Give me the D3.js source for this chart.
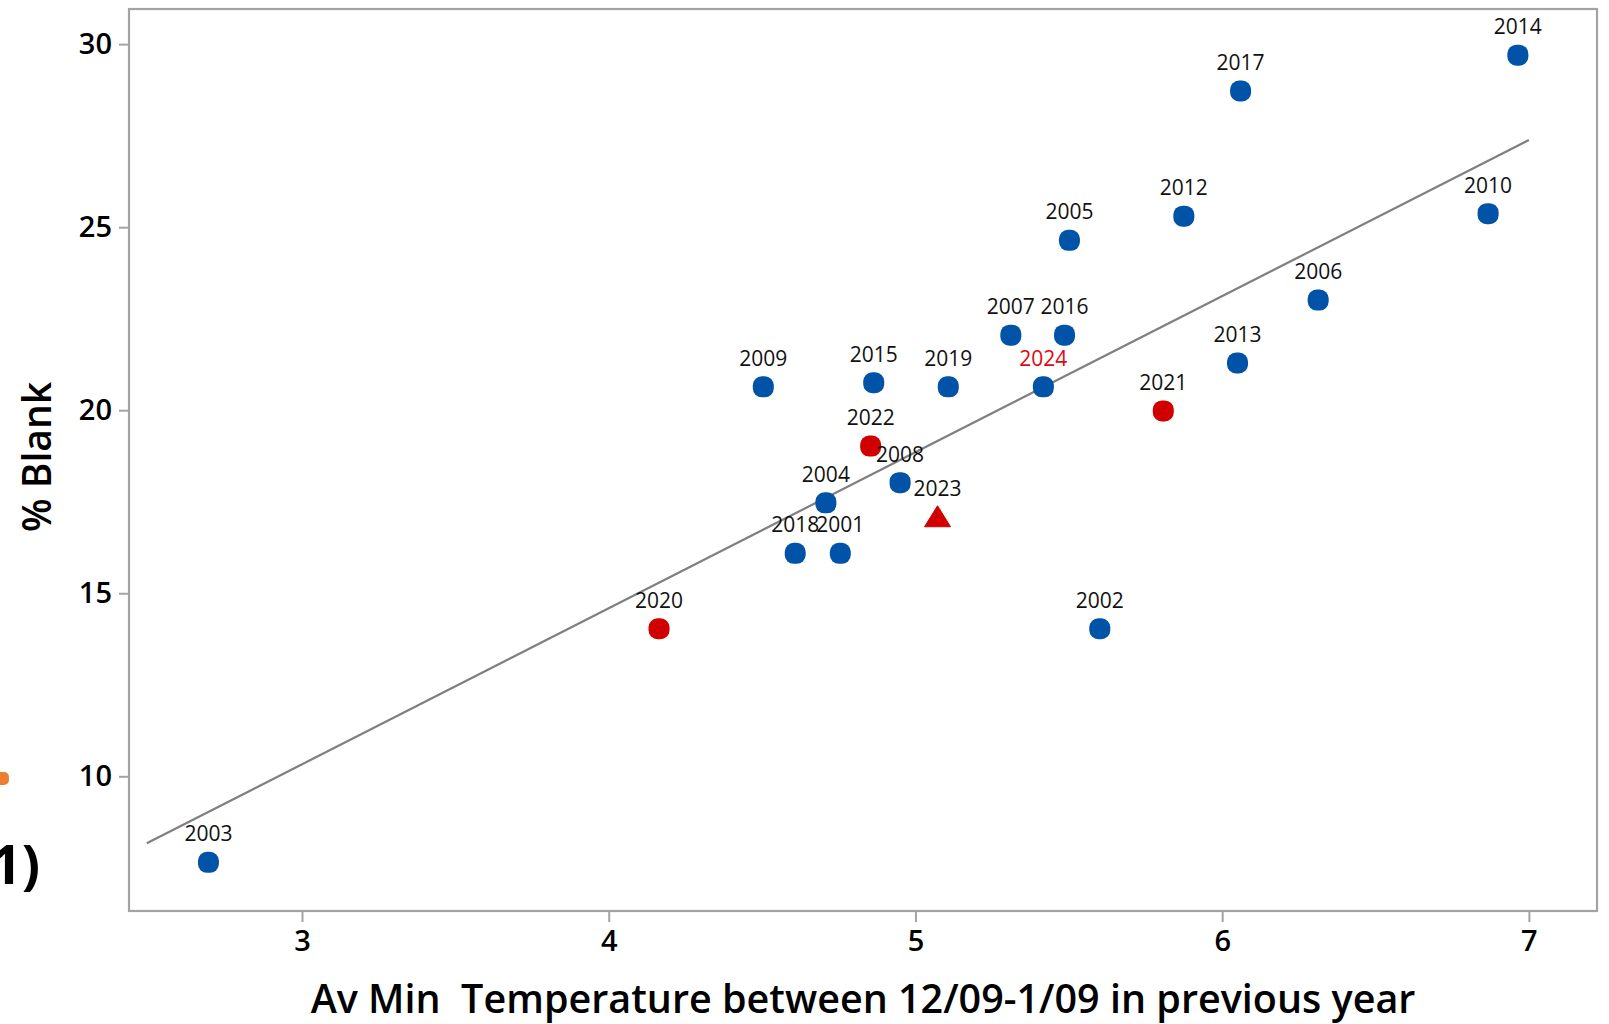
<!DOCTYPE html>
<html>
<head>
<meta charset="utf-8">
<script src="https://cdn.jsdelivr.net/npm/d3@7"></script>
<style>
  html, body { margin: 0; padding: 0; background: #ffffff; }
  svg { display: block; }
  text { font-family: "Open Sans", "Noto Sans", sans-serif; }
</style>
</head>
<body>
<svg id="chart" width="1609" height="1024"></svg>
<script>
// Season labels, temperature (x) and % blank (y)
const years = ["2001","2002","2003","2004","2005","2006","2007","2008","2009","2010",
               "2012","2013","2014","2015","2016","2017","2018","2019","2020","2021",
               "2022","2023","2024"];
const avMinTemp = [4.755, 5.601, 2.695, 4.708, 5.502, 6.313, 5.311, 4.950, 4.504, 6.867,
                   5.875, 6.050, 6.964, 4.864, 5.486, 6.060, 4.608, 5.107, 4.164, 5.808,
                   4.854, 5.072, 5.417];
const pctBlank = [16.09, 14.03, 7.65, 17.47, 24.64, 23.01, 22.05, 18.02, 20.64, 25.37,
                  25.30, 21.29, 29.70, 20.75, 22.05, 28.72, 16.09, 20.64, 14.03, 19.98,
                  19.02, 17.09, 20.64];
// marker group: 0 = blue dot, 1 = red dot, 2 = red triangle
const markerGroup = [0,0,0,0,0,0,0,0,0,0, 0,0,0,0,0,0,0,0,1,1, 1,2,0];
// label colour group: 0 = black, 1 = red
const labelGroup  = [0,0,0,0,0,0,0,0,0,0, 0,0,0,0,0,0,0,0,0,0, 0,0,1];

// fitted line end points
const fitX = [2.494, 7.0];
const fitY = [8.17, 27.38];

const xTicks = [3, 4, 5, 6, 7];
const yTicks = [10, 15, 20, 25, 30];

const xTitle = "Av Min  Temperature between 12/09-1/09 in previous year";
const yTitle = "% Blank";

const plot = { left: 129, right: 1597, top: 9, bottom: 911 };

const svg = d3.select("#chart");

const x = d3.scaleLinear().domain([2.436, 7.222]).range([plot.left, plot.right]);
const y = d3.scaleLinear().domain([6.32, 30.96]).range([plot.bottom, plot.top]);

const markerFill = ["#0053A6", "#D10000", "#D10000"];
const labelFill = ["#111111", "#E30613"];
const frameColor = "#A3A3A3";

// stray legend fragment and caption at the left edge
svg.append("rect")
  .attr("x", -8).attr("y", 772).attr("width", 17).attr("height", 13)
  .attr("rx", 5).attr("fill", "#ED7D31");
svg.append("text")
  .attr("x", 40).attr("y", 884)
  .attr("text-anchor", "end")
  .attr("font-size", 54).attr("font-weight", 700).attr("fill", "#000")
  .text("1)");

// axes
const xAxis = d3.axisBottom(x).tickValues(xTicks).tickSize(11).tickPadding(8).tickFormat(d3.format("d"));
const yAxis = d3.axisLeft(y).tickValues(yTicks).tickSize(10).tickPadding(7).tickFormat(d3.format("d"));

const gx = svg.append("g").attr("transform", `translate(0,${plot.bottom})`).call(xAxis);
const gy = svg.append("g").attr("transform", `translate(${plot.left},0)`).call(yAxis);
[gx, gy].forEach(g => {
  g.select(".domain").remove();
  g.selectAll(".tick line").attr("stroke", frameColor).attr("stroke-width", 2);
  g.selectAll(".tick text")
    .attr("fill", "#000")
    .attr("font-size", 29)
    .attr("font-weight", 600)
    .attr("font-family", "'Open Sans', sans-serif");
});

// plot frame
svg.append("rect")
  .attr("x", plot.left).attr("y", plot.top)
  .attr("width", plot.right - plot.left).attr("height", plot.bottom - plot.top)
  .attr("fill", "none").attr("stroke", frameColor).attr("stroke-width", 2.2);

// fitted line
const line = d3.line().x(d => x(d[0])).y(d => y(d[1]));
svg.append("path")
  .datum(d3.zip(fitX, fitY))
  .attr("d", line)
  .attr("fill", "none").attr("stroke", "#7F7F7F").attr("stroke-width", 2.2);

// points
const pts = years.map((yr, i) => ({ yr, t: avMinTemp[i], b: pctBlank[i], m: markerGroup[i], l: labelGroup[i] }));
const S = 21;
const gPts = svg.append("g");
gPts.selectAll("rect.dot").data(pts.filter(d => d.m < 2)).join("rect")
  .attr("class", "dot")
  .attr("x", d => x(d.t) - S / 2).attr("y", d => y(d.b) - S / 2)
  .attr("width", S).attr("height", S).attr("rx", 9)
  .attr("fill", d => markerFill[d.m]);
gPts.selectAll("path.tri").data(pts.filter(d => d.m === 2)).join("path")
  .attr("class", "tri")
  .attr("d", d => {
    const cx = x(d.t), cy = y(d.b);
    return `M${cx - 13},${cy + 10} L${cx},${cy - 11} L${cx + 13},${cy + 10} Z`;
  })
  .attr("fill", d => markerFill[d.m]).attr("stroke", markerFill[2]).attr("stroke-linejoin", "round");

// year labels
svg.append("g").selectAll("text").data(pts).join("text")
  .attr("x", d => x(d.t))
  .attr("y", d => y(d.b) - 21)
  .attr("text-anchor", "middle")
  .attr("font-size", 21)
  .attr("fill", d => labelFill[d.l])
  .text(d => d.yr);

// axis titles
svg.append("text")
  .attr("x", (plot.left + plot.right) / 2).attr("y", 1013)
  .attr("text-anchor", "middle")
  .attr("font-size", 39.5).attr("font-weight", 600).attr("fill", "#000")
  .attr("xml:space", "preserve")
  .style("white-space", "pre")
  .text(xTitle);
svg.append("text")
  .attr("transform", `translate(51,${(plot.top + plot.bottom) / 2 - 3}) rotate(-90)`)
  .attr("text-anchor", "middle")
  .attr("font-size", 39).attr("font-weight", 600).attr("fill", "#000")
  .text(yTitle);
</script>
</body>
</html>
